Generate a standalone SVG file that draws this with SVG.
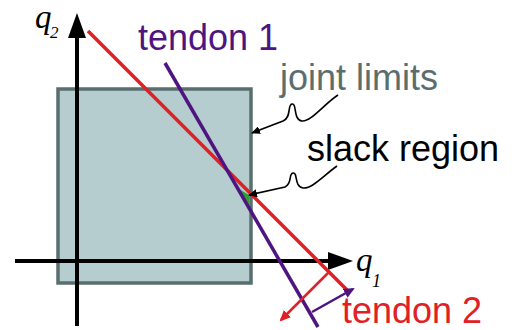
<svg xmlns="http://www.w3.org/2000/svg" width="512" height="330" viewBox="0 0 512 330">
  <style>
    .lbl { font-family: "Liberation Sans", Arial, sans-serif; font-size: 36px; }
    .math { font-family: "Liberation Serif", "Times New Roman", serif; font-style: italic; fill: #000; }
    .axis { stroke: #000; stroke-width: 4; fill: none; }
    .callout { stroke: #000; stroke-width: 1.6; fill: none; }
  </style>
  <defs>
    <marker id="axisHead" markerUnits="userSpaceOnUse" viewBox="0 -9 25 18" refX="7" refY="0" markerWidth="25" markerHeight="18" orient="auto">
      <path d="M0,-9 L25,0 L0,9 z" fill="#000"/>
    </marker>
    <marker id="redHead" markerUnits="userSpaceOnUse" viewBox="0 -5 11 10" refX="9" refY="0" markerWidth="11" markerHeight="10" orient="auto">
      <path d="M0,-5 L11,0 L0,5 z" fill="#e02026"/>
    </marker>
    <marker id="purpleHead" markerUnits="userSpaceOnUse" viewBox="0 -5 11 10" refX="9" refY="0" markerWidth="11" markerHeight="10" orient="auto">
      <path d="M0,-5 L11,0 L0,5 z" fill="#4e1580"/>
    </marker>
    <marker id="blackHead" markerUnits="userSpaceOnUse" viewBox="0 -4 9 8" refX="8" refY="0" markerWidth="9" markerHeight="8" orient="auto">
      <path d="M0,-4 L9,0 L0,4 z" fill="#000"/>
    </marker>
  </defs>

  <g id="joint-limits">
    <rect x="58" y="89" width="193" height="194" fill="#b5cdcf" stroke="#5a6e6e" stroke-width="3.5"/>
  </g>

  <g id="slack-region">
    <polygon points="239,189 249,195 249,205" fill="#2fa02f"/>
  </g>

  <g id="axes">
    <line class="axis" x1="77" y1="326" x2="77" y2="31" marker-end="url(#axisHead)"/>
    <line class="axis" x1="15" y1="261" x2="335" y2="261" marker-end="url(#axisHead)"/>
    <text class="math" x="35" y="28" font-size="33">q</text>
    <text class="math" x="50" y="38" font-size="17">2</text>
    <text class="math" x="356" y="271" font-size="33">q</text>
    <text class="math" x="372" y="287" font-size="18">1</text>
  </g>

  <g id="tendon-2">
    <line x1="88" y1="31" x2="350" y2="293" stroke="#e02026" stroke-width="3.5"/>
    <text class="lbl" x="342" y="323" fill="#e02026">tendon 2</text>
  </g>

  <g id="tendon-1">
    <line x1="165" y1="63" x2="318" y2="327" stroke="#4e1580" stroke-width="3.5"/>
    <text class="lbl" x="138" y="50" fill="#4e1580">tendon 1</text>
  </g>

  <g id="labels">
    <text class="lbl" x="280" y="90" fill="#5a6e6e">joint limits</text>
    <text class="lbl" x="307" y="161" fill="#000" font-size="37">slack region</text>
  </g>

  <g id="connectors">
    <line x1="328" y1="273" x2="281" y2="320" stroke="#e02026" stroke-width="2.5" marker-end="url(#redHead)"/>
    <line x1="312" y1="312" x2="353" y2="289" stroke="#4e1580" stroke-width="2.5" marker-end="url(#purpleHead)"/>
    <path class="callout" d="M338,95 C324,104 311,122 302,121 C293,120 297,103 292,104 C287,105 292,117 283,121 L252,133" marker-end="url(#blackHead)"/>
    <path class="callout" d="M337,166 C323,176 312,189 303,188 C294,187 298,172 293,173 C288,174 293,183 285,187 L249,195" marker-end="url(#blackHead)"/>
  </g>
</svg>
